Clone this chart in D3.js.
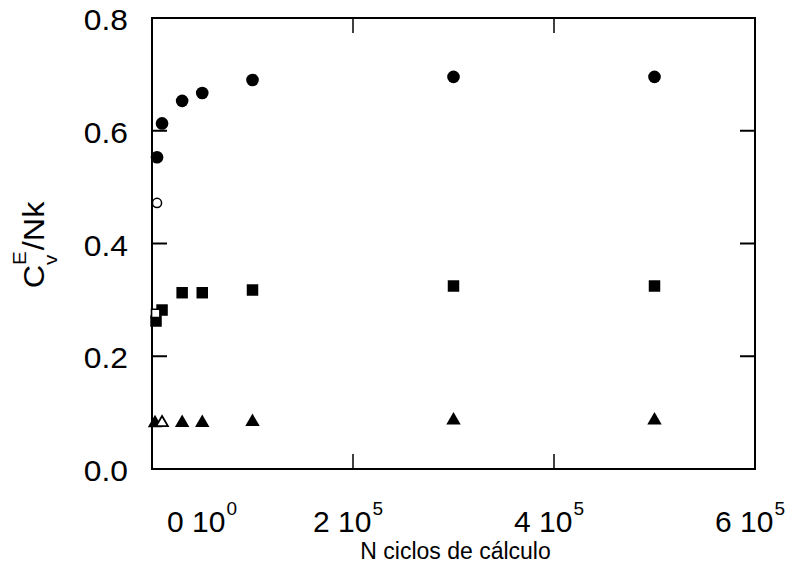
<!DOCTYPE html>
<html>
<head>
<meta charset="utf-8">
<script src="https://cdn.jsdelivr.net/npm/d3@7/dist/d3.min.js"></script>
<style>
  html, body { margin: 0; padding: 0; background: #fff; }
  svg { display: block; }
  text { font-family: "Liberation Sans", Arial, Helvetica, sans-serif; fill: #000; }
</style>
</head>
<body>
<svg id="chart" width="801" height="563"></svg>
<script>
// ---- data ----
const xTicks = [0, 200000, 400000, 600000];
const xTickBase = ["0 10", "2 10", "4 10", "6 10"];
const xTickExp = ["0", "5", "5", "5"];
const yTicks = [0, 0.2, 0.4, 0.6, 0.8];
const yTickLabels = ["0.0", "0.2", "0.4", "0.6", "0.8"];

const xCircleFilled = [5000, 10000, 30000, 50000, 100000, 300000, 500000];
const circleFilled = [0.553, 0.613, 0.653, 0.667, 0.690, 0.6955, 0.6955];
const xCircleOpen = [5000];
const circleOpen = [0.472];

const xSquareFilled = [4000, 10000, 30000, 50000, 100000, 300000, 500000];
const squareFilled = [0.2625, 0.282, 0.3127, 0.3127, 0.3175, 0.3246, 0.3246];
const xSquareOpen = [3700];
const squareOpen = [0.276];

const xTriangleFilled = [3000, 30000, 50000, 100000, 300000, 500000];
const triangleFilled = [0.0815, 0.082, 0.082, 0.0835, 0.0865, 0.0865];
const xTriangleOpen = [10000];
const triangleOpen = [0.082];

const xTitle = "N ciclos de cálculo";

// ---- layout ----
const svg = d3.select("#chart");
const L = 152, R = 755, T = 18, B = 469;
const SX = 1.06; // slight horizontal text stretch for tick labels
const x = d3.scaleLinear().domain([0, 600000]).range([L, R]);
const y = d3.scaleLinear().domain([0, 0.8]).range([B, T]);

// ticks (inward)
const tickLen = 15;
const g = svg.append("g");
const midX = xTicks.filter(v => v > 0 && v < 600000);
const midY = yTicks.filter(v => v > 0 && v < 0.8);
midX.forEach(v => {
  g.append("line").attr("x1", x(v)).attr("x2", x(v)).attr("y1", B).attr("y2", B - tickLen)
    .attr("stroke", "#000").attr("stroke-width", 1.5);
  g.append("line").attr("x1", x(v)).attr("x2", x(v)).attr("y1", T).attr("y2", T + tickLen)
    .attr("stroke", "#000").attr("stroke-width", 1.5);
});
midY.forEach(v => {
  g.append("line").attr("x1", L).attr("x2", L + tickLen).attr("y1", y(v)).attr("y2", y(v))
    .attr("stroke", "#000").attr("stroke-width", 2);
  g.append("line").attr("x1", R).attr("x2", R - tickLen).attr("y1", y(v)).attr("y2", y(v))
    .attr("stroke", "#000").attr("stroke-width", 2);
});

// frame
svg.append("rect").attr("x", L).attr("y", T).attr("width", R - L).attr("height", B - T)
  .attr("fill", "none").attr("stroke", "#000").attr("stroke-width", 2);

// y tick labels
yTicks.forEach((v, i) => {
  svg.append("text")
    .attr("transform", `translate(128,${y(v) + 12}) scale(${SX},1)`)
    .attr("text-anchor", "end")
    .attr("font-size", 30)
    .text(yTickLabels[i]);
});

// x tick labels
xTicks.forEach((v, i) => {
  const startX = x(v) + (v === 0 ? 15 : -40);
  const t = svg.append("text")
    .attr("transform", `translate(${startX},532)`)
    .attr("font-size", 30)
    .text(xTickBase[i]);
  const w = t.node().getComputedTextLength();
  svg.append("text")
    .attr("transform", `translate(${startX + w + 1},515)`)
    .attr("font-size", 19)
    .text(xTickExp[i]);
});

// x title
svg.append("text")
  .attr("transform", `translate(${(L + R) / 2 + 2},559)`)
  .attr("text-anchor", "middle")
  .attr("font-size", 23)
  .text(xTitle);

// y title: C^E_v/Nk rotated
(function () {
  const YS = 1.08;
  const yg = svg.append("g");
  const inner = yg.append("g");
  const c = inner.append("text").attr("font-size", 30).attr("transform", `scale(${YS},1)`).text("C");
  const wC = c.node().getComputedTextLength() * YS;
  const e = inner.append("text").attr("font-size", 19)
    .attr("transform", `translate(${wC},-18) scale(${YS},1)`).text("E");
  const wE = e.node().getComputedTextLength() * YS;
  const sv = inner.append("text").attr("font-size", 19)
    .attr("transform", `translate(${wC},13) scale(${YS},1)`).text("v");
  const wv = sv.node().getComputedTextLength() * YS;
  const rest = inner.append("text").attr("font-size", 30)
    .attr("transform", `translate(${wC + Math.max(wE, wv) + 1},0) scale(${YS},1)`).text("/Nk");
  const wR = rest.node().getComputedTextLength() * YS;
  const total = wC + Math.max(wE, wv) + 1 + wR;
  inner.attr("transform", `translate(${-total / 2},0)`);
  yg.attr("transform", "translate(44,245) rotate(-90)");
})();

// markers
const circ = d3.symbol().type(d3.symbolCircle);
const sq = d3.symbol().type(d3.symbolSquare);
const tri = d3.symbol().type(d3.symbolTriangle);

function plot(xs, ys, gen, size, fill, stroke, sw) {
  svg.append("g").selectAll("path").data(ys).join("path")
    .attr("d", gen.size(size)())
    .attr("transform", (d, i) => `translate(${x(xs[i])},${y(d)})`)
    .attr("fill", fill).attr("stroke", stroke).attr("stroke-width", sw);
}

plot(xTriangleFilled, triangleFilled, tri, 90, "#000", "none", 0);
plot(xTriangleOpen, triangleOpen, tri, 60, "#fff", "#000", 1.8);
plot(xSquareFilled, squareFilled, sq, 132, "#000", "none", 0);
plot(xSquareOpen, squareOpen, sq, 70, "#fff", "#000", 1.6);
plot(xCircleFilled, circleFilled, circ, 125, "#000", "none", 0);
plot(xCircleOpen, circleOpen, circ, 65, "#fff", "#000", 1.5);
</script>
</body>
</html>
